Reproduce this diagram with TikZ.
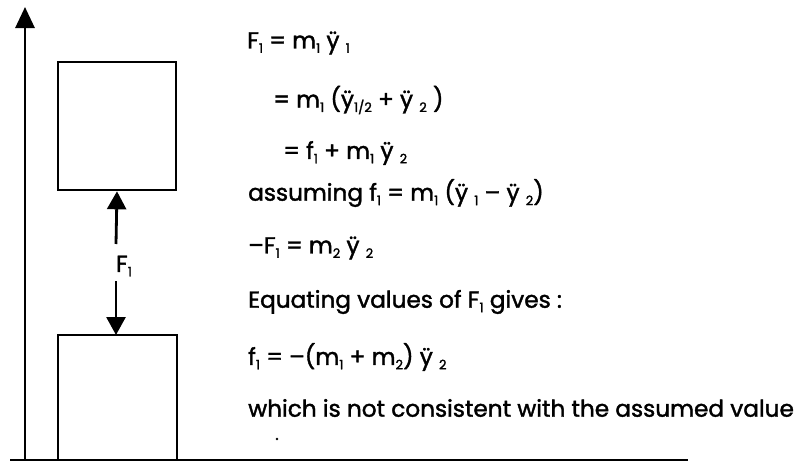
\documentclass[tikz,border=0pt]{standalone}
\usepackage{fontspec}
\setmainfont{Poppins}[BoldFont=Poppins, BoldFeatures={FakeBold=1.6}]
\usetikzlibrary{arrows.meta}
\newcommand\lo[1]{\raisebox{-0.35ex}{\fontsize{13}{13}\selectfont #1}}
\tikzset{
  heavy/.style={line width=2.8pt},
  massbox/.style={draw, line width=2.6pt},
  eqn/.style={anchor=west, inner sep=0pt, font=\fontsize{23.2}{25}\selectfont\bfseries},
  bigtip/.style={-{Triangle[length=21pt,width=19pt]}},
  forcetip/.style={-{Triangle[length=18pt,width=19pt]}},
}
\begin{document}
\begin{tikzpicture}[x=1pt,y=-1pt]
\useasboundingbox (0,0) rectangle (800,463);
% axes
\coordinate (o) at (25,460);
\coordinate (top) at (25,7);
\coordinate (gl) at (10,460);
\coordinate (gr) at (688,460);
\draw[heavy] (gl) -- (gr);
\draw[heavy, bigtip] (o) -- (top);
% boxes
\node[massbox, minimum width=118pt, minimum height=128pt, inner sep=0pt] (m1) at (117,126) {};
\draw[massbox] (58,460) coordinate (lbl) -- (58,335) -- (177,335) coordinate (lbtr) -- (177,460);
\coordinate (lbtop) at (116,335);
% force arrows
\node[inner sep=0pt, font=\fontsize{23.2}{25}\selectfont\bfseries] (F) at (124,266) {F\lo{1}};
\coordinate (ua) at (116,244);
\coordinate (la) at (116,281);
\draw[heavy, forcetip] (ua) -- (m1.south);
\draw[heavy, forcetip] (la) -- (lbtop);
% equations
\node[eqn] (e1) at (247,43) {F\lo{1} = m\lo{1} ÿ \lo{1}};
\node[eqn] (e2) at (273,100) {= m\lo{1} (ÿ\lo{1/2} + ÿ \lo{2} )};
\node[eqn] (e3) at (283,153) {= f\lo{1} + m\lo{1} ÿ \lo{2}};
\node[eqn] (e4) at (248,193) {assuming f\lo{1} = m\lo{1} (ÿ \lo{1} – ÿ \lo{2})};
\node[eqn] (e5) at (248,248) {–F\lo{1} = m\lo{2} ÿ \lo{2}};
\node[eqn] (e6) at (248,302) {Equating values of F\lo{1} gives :};
\node[eqn] (e7) at (248,357) {f\lo{1} = –(m\lo{1} + m\lo{2}) ÿ \lo{2}};
\node[eqn] (e8) at (248,408) {which is not consistent with the assumed value};
\fill (277,439) circle (1.3pt);
\end{tikzpicture}
\end{document}
